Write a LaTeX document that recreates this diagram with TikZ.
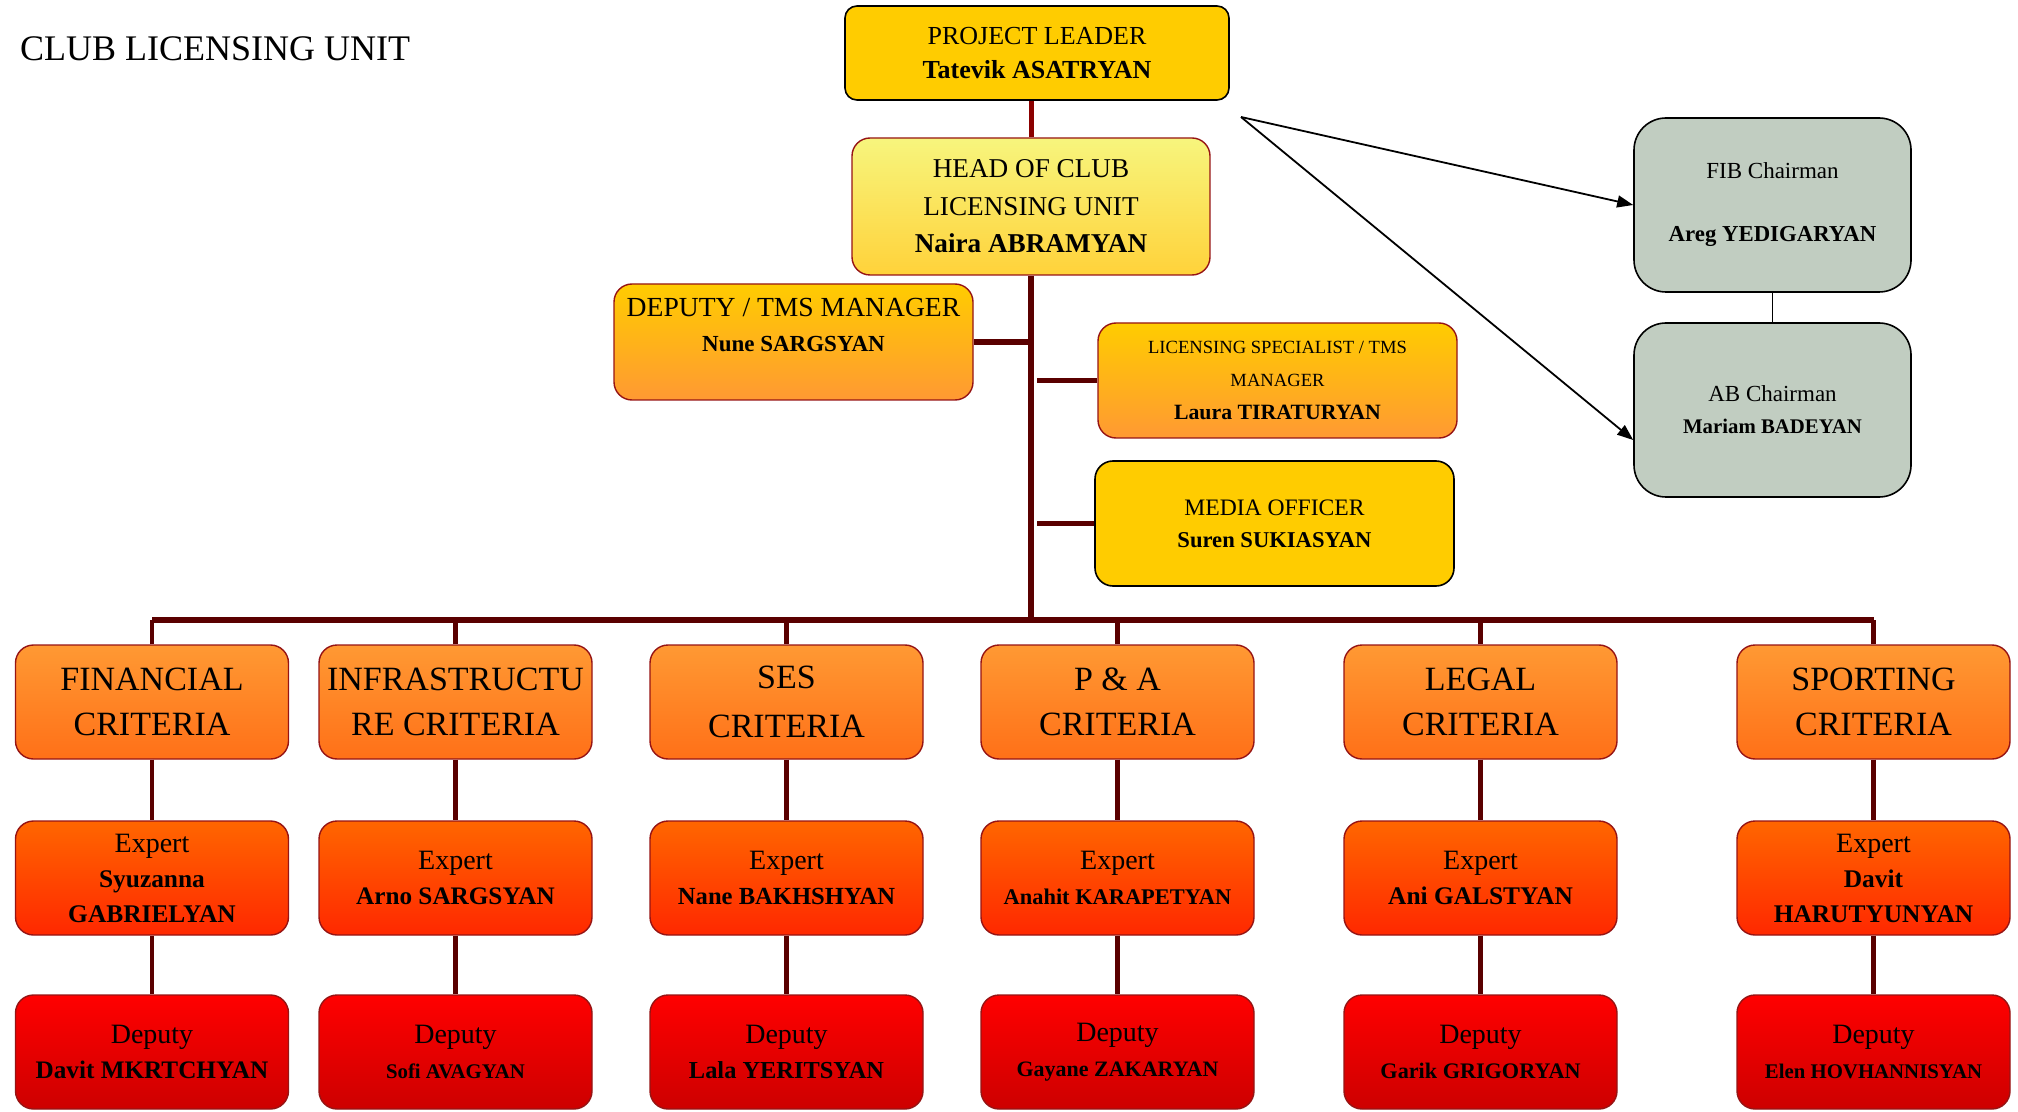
\documentclass[tikz,border=0pt]{standalone}
\usepackage{fontspec}
\setmainfont{Liberation Serif}
\usetikzlibrary{arrows.meta}

\definecolor{linkred}{RGB}{90,0,0}
\definecolor{topred}{RGB}{139,0,0}
\definecolor{boxedge}{RGB}{150,20,20}
\definecolor{gold}{RGB}{255,204,0}
\definecolor{paleyellow}{RGB}{247,245,125}
\definecolor{deepyellow}{RGB}{255,210,58}
\definecolor{lightorange}{RGB}{255,153,51}
\definecolor{midorange}{RGB}{255,112,24}
\definecolor{hotorange}{RGB}{255,102,0}
\definecolor{redorange}{RGB}{255,40,0}
\definecolor{brightred}{RGB}{255,0,0}
\definecolor{darkred}{RGB}{205,0,0}
\definecolor{sage}{RGB}{193,205,193}

\newcommand{\pname}[2]{{\fontsize{#1}{#1}\selectfont\bfseries #2}}

\tikzset{
  orgbox/.style={draw=boxedge, line width=0.7pt, rounded corners=9pt, align=center, inner sep=2pt},
  critbox/.style={orgbox, minimum width=136.5pt, minimum height=57pt, top color=lightorange, bottom color=midorange, font=\fontsize{17}{22.5}\selectfont},
  expbox/.style={orgbox, minimum width=136.5pt, minimum height=57pt, top color=hotorange, bottom color=redorange, font=\fontsize{14}{17.5}\selectfont},
  depbox/.style={orgbox, minimum width=136.5pt, minimum height=57pt, top color=brightred, bottom color=darkred, font=\fontsize{14}{17.5}\selectfont},
  chairbox/.style={draw=black, line width=0.8pt, fill=sage, rounded corners=16pt, minimum width=138.5pt, minimum height=87pt, align=center},
  link/.style={draw=linkred, line width=2.4pt},
  trunk/.style={draw=linkred, line width=2.7pt},
  pointer/.style={draw=black, line width=0.9pt, -{Triangle[length=8pt,width=6pt]}},
}

\begin{document}
\begin{tikzpicture}[x=0.5pt,y=-0.5pt]
  \useasboundingbox (0,0) rectangle (2018,1112);

  % Title
  \node[anchor=west, font=\fontsize{18}{22}\selectfont] (title) at (13,49) {CLUB LICENSING UNIT};

  % Leader and head of the unit
  \node[draw=black, line width=0.8pt, fill=gold, rounded corners=6pt, minimum width=192pt, minimum height=47pt, align=center, font=\fontsize{13}{17.4}\selectfont] (lead) at (1037,53) {PROJECT LEADER\\\textbf{Tatevik ASATRYAN}};
  \node[orgbox, top color=paleyellow, bottom color=deepyellow, minimum width=179pt, minimum height=68.5pt, font=\fontsize{13.6}{18.7}\selectfont] (head) at (1031,206.5) {HEAD OF CLUB\\LICENSING UNIT\\\textbf{Naira ABRAMYAN}};

  % Staff next to the spine
  \node[orgbox, top color=gold, bottom color=lightorange, minimum width=179.5pt, minimum height=58pt, font=\fontsize{13.8}{17.4}\selectfont] (dep) at (793.5,342) {DEPUTY / TMS MANAGER\\\pname{11.5}{Nune SARGSYAN}\\~};
  \node[orgbox, top color=gold, bottom color=lightorange, minimum width=179.5pt, minimum height=57.5pt, font=\fontsize{9.3}{16.4}\selectfont] (spec) at (1277.5,380.5) {LICENSING SPECIALIST / TMS\\MANAGER\\\pname{10.9}{Laura TIRATURYAN}};
  \node[draw=black, line width=0.8pt, fill=gold, rounded corners=9pt, minimum width=179.5pt, minimum height=62.5pt, align=center, font=\fontsize{11.8}{16}\selectfont] (media) at (1274.5,523.5) {MEDIA OFFICER\\\pname{11.3}{Suren SUKIASYAN}};

  % Boards
  \node[chairbox, font=\fontsize{11.5}{16}\selectfont] (fib) at (1772.5,205) {FIB Chairman\\[15.5pt]\pname{11.4}{Areg YEDIGARYAN}};
  \node[chairbox, font=\fontsize{11.5}{16}\selectfont] (ab) at (1772.5,410) {AB Chairman\\\pname{10.4}{Mariam BADEYAN}};
  \draw[line width=0.8pt] (fib.south) -- (ab.north);

  \coordinate (fork) at (1241,117);
  \draw[pointer] (fork) -- (fib.west);
  \draw[pointer] (fork) -- ([yshift=-15pt]ab.west);

  % Spine
  \coordinate (bus) at (1030,620);
  \draw[topred, line width=2.5pt] (lead.south -| head.north) -- (head.north);
  \draw[trunk] (head.south) -- (head.south |- bus);
  \draw[trunk] (dep.east) -- (dep.east -| head.south);
  \draw[trunk, shorten <=3pt] (spec.west -| head.south) -- (spec.west);
  \draw[trunk, shorten <=3pt] (media.west -| head.south) -- (media.west);

  % Criteria columns
  \foreach \i/\cx/\crit/\expert/\deputy in {
      1/152/{FINANCIAL\\CRITERIA}/{Expert\\\pname{12.7}{Syuzanna}\\\pname{12.7}{GABRIELYAN}}/{Deputy\\\pname{12.6}{Davit MKRTCHYAN}},
      2/455.5/{INFRASTRUCTU\\RE CRITERIA}/{Expert\\\pname{12.6}{Arno SARGSYAN}}/{Deputy\\\pname{10.4}{Sofi AVAGYAN}},
      3/786.5/{SES\\[2pt]CRITERIA}/{Expert\\\pname{12.3}{Nane BAKHSHYAN}}/{Deputy\\\pname{12.2}{Lala YERITSYAN}},
      4/1117.5/{P \& A\\CRITERIA}/{Expert\\\pname{11.2}{Anahit KARAPETYAN}}/{Deputy\\\pname{11}{Gayane ZAKARYAN}},
      5/1480.5/{LEGAL\\CRITERIA}/{Expert\\\pname{12.7}{Ani GALSTYAN}}/{Deputy\\\pname{11.1}{Garik GRIGORYAN}},
      6/1873.5/{SPORTING\\CRITERIA}/{Expert\\\pname{12.7}{Davit}\\\pname{12.7}{HARUTYUNYAN}}/{Deputy\\\pname{10.4}{Elen HOVHANNISYAN}}}{
    \node[critbox] (crit\i) at (\cx,702) {\crit};
    \node[expbox] (exp\i) at (\cx,878) {\expert};
    \node[depbox] (dpt\i) at (\cx,1052) {\deputy};
    \draw[link] (crit\i.north) -- (crit\i.north |- bus);
    \draw[link] (crit\i.south) -- (exp\i.north);
    \draw[link] (exp\i.south) -- (dpt\i.north);
  }
  \draw[trunk, line width=3pt] (crit1.north |- bus) -- (crit6.north |- bus);
\end{tikzpicture}
\end{document}
